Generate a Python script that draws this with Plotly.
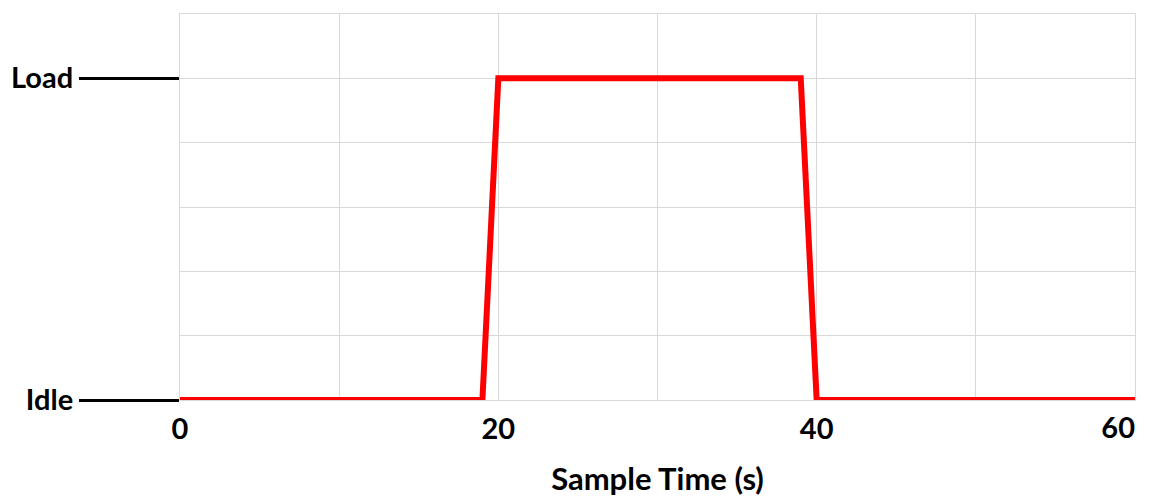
import plotly.graph_objects as go

# state profile over the sample window
sample_time = [0, 19, 20, 39, 40, 60]
state_level = [0, 0, 5, 5, 0, 0]

state_ticks = [0, 5]
state_labels = ["Idle", "Load"]
time_ticks = [0, 20, 40]
end_tick = [60]

FONT = "Lato"
GRID = "#d9d9d9"
tick_font = dict(family=FONT, size=29, color="black", weight="bold")

fig = go.Figure()
fig.add_trace(
    go.Scatter(
        x=sample_time,
        y=state_level,
        mode="lines",
        line=dict(color="#ff0000", width=6),
        showlegend=False,
        cliponaxis=False,
    )
)
# end point only, so the overlaying axis with the last label gets drawn
fig.add_trace(
    go.Scatter(
        x=sample_time[-1:],
        y=state_level[-1:],
        xaxis="x2",
        mode="lines",
        line=dict(color="#ff0000", width=6),
        showlegend=False,
        hoverinfo="skip",
    )
)

fig.update_xaxes(
    range=[0, 60.001],
    tickvals=time_ticks,
    ticktext=[str(t) for t in time_ticks],
    showgrid=True,
    gridcolor=GRID,
    minor=dict(dtick=10, showgrid=True, gridcolor=GRID),
    showline=True,
    linecolor=GRID,
    mirror=True,
    zeroline=False,
    ticks="",
    automargin=False,
    ticklabelstandoff=3,
    tickfont=tick_font,
    title=dict(
        text="Sample Time (s)",
        font=dict(family=FONT, size=31, color="black", weight="bold"),
        standoff=32,
    ),
)

fig.update_yaxes(
    range=[0, 6],
    tickvals=state_ticks,
    ticktext=state_labels,
    showgrid=True,
    gridcolor=GRID,
    minor=dict(dtick=1, showgrid=True, gridcolor=GRID),
    showline=True,
    linecolor=GRID,
    mirror=True,
    zeroline=False,
    ticks="outside",
    ticklen=100,
    tickwidth=3,
    tickcolor="black",
    automargin=False,
    ticklabelstandoff=0,
    tickfont=tick_font,
)

# page body adds an 8px offset, so the figure is sized to fit the window
fig.update_layout(
    width=1141,
    height=489,
    margin=dict(l=172, r=14, t=6, b=97),
    plot_bgcolor="white",
    paper_bgcolor="white",
    # last x label sits left of its grid line, as in the source
    xaxis2=dict(
        overlaying="x",
        anchor="y",
        side="bottom",
        range=[0, 60.001],
        tickvals=end_tick,
        ticktext=[str(t) for t in end_tick],
        ticklabelposition="outside left",
        showgrid=False,
        zeroline=False,
        showline=False,
        ticks="",
        automargin=False,
        ticklabelstandoff=8,
        tickfont=tick_font,
    ),
)

fig.write_html("out.html")
